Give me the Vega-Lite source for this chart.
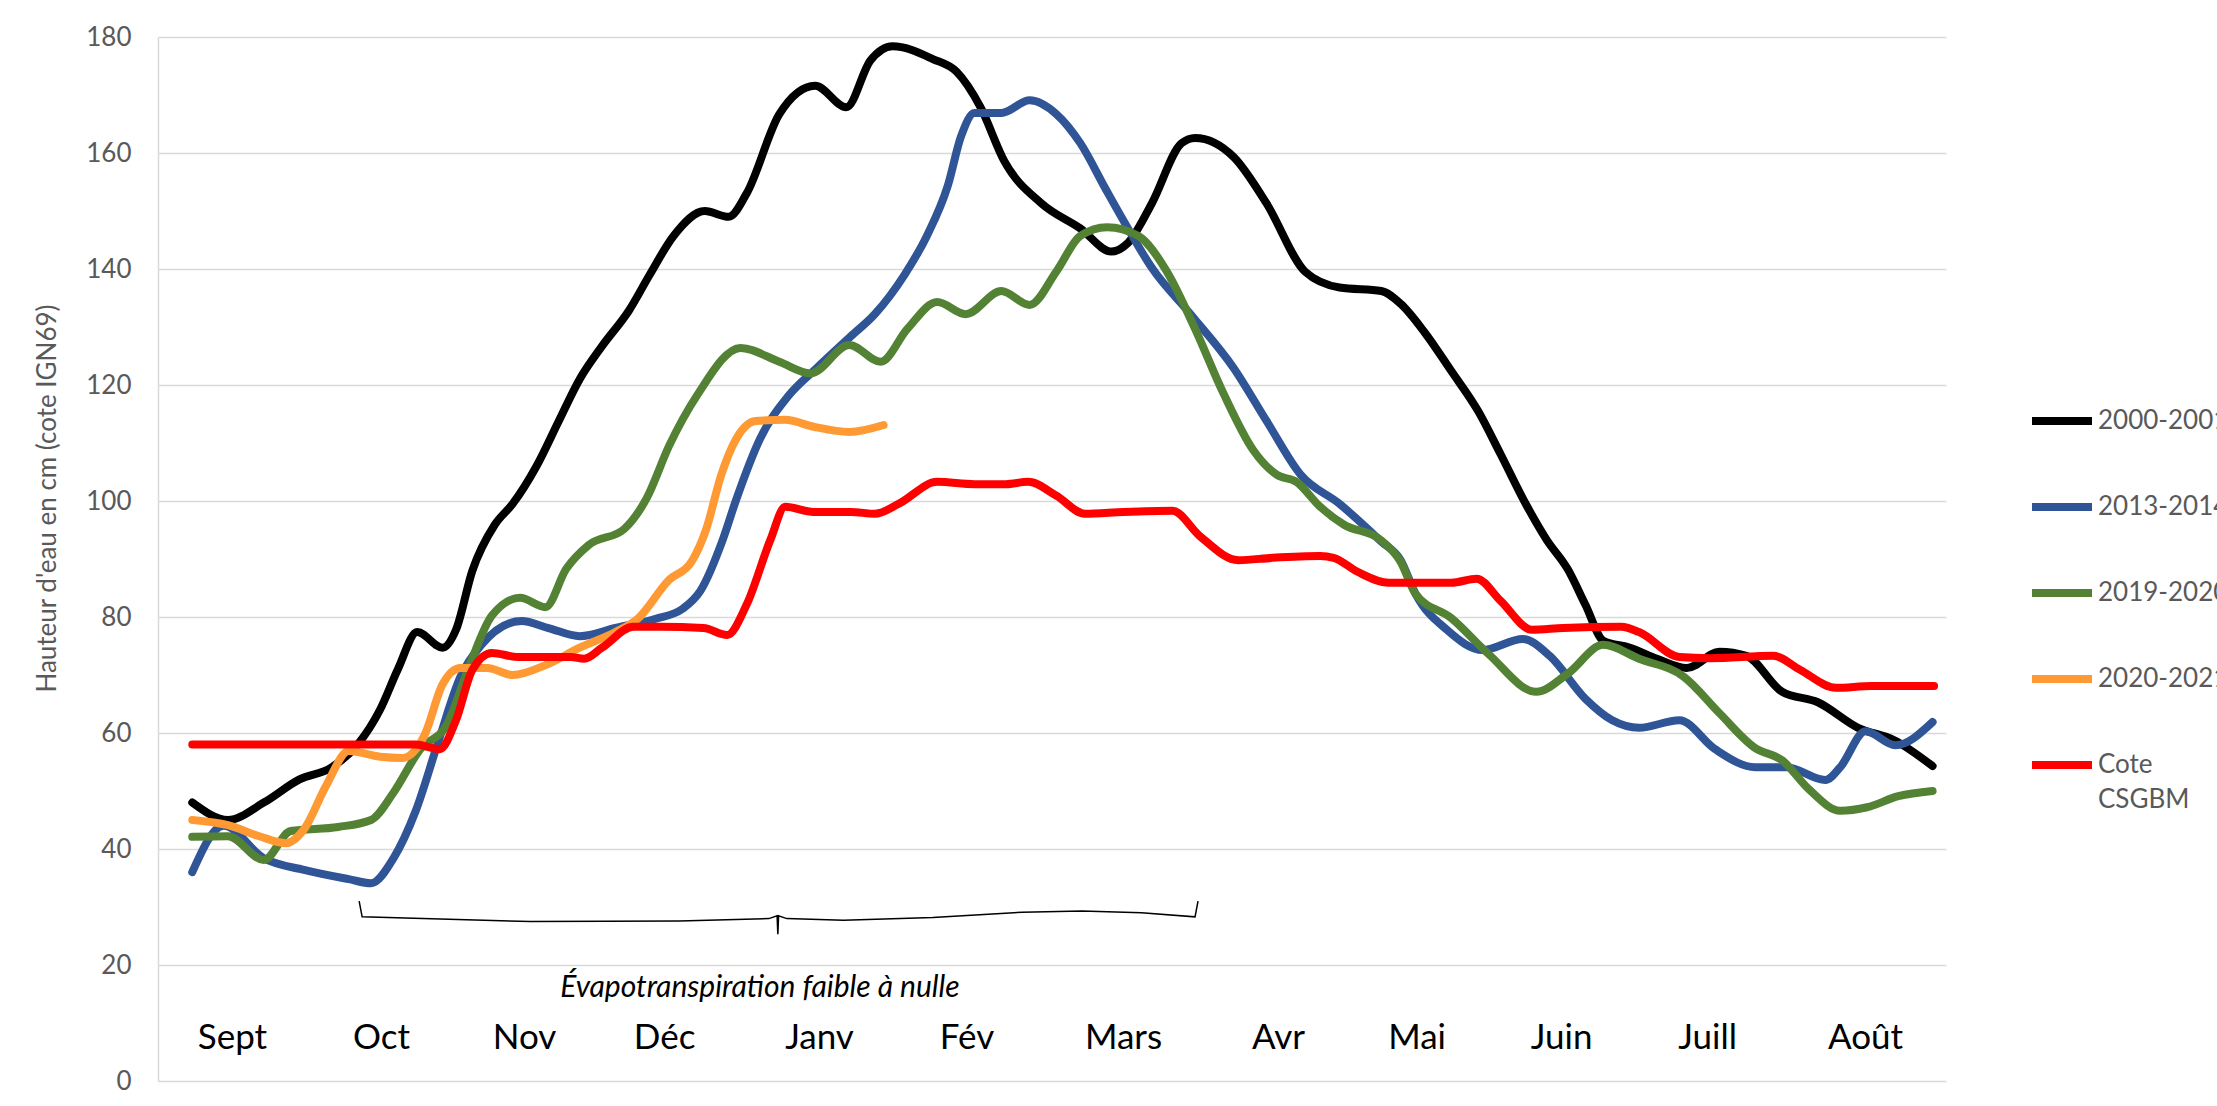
{
  "$schema": "https://vega.github.io/schema/vega-lite/v6.json",
  "width": 1788,
  "height": 1044,
  "autosize": {"type": "none"},
  "padding": {"left": 158, "top": 37, "right": 271, "bottom": 25},
  "background": "white",
  "config": {"view": {"stroke": null}, "font": "Lato", "style": {"guide-label": {"lineHeight": 35}}},
  "datasets": {
    "series": [
      {"s":"2000-2001","t":0.23,"v":48},{"s":"2000-2001","t":0.47,"v":45},{"s":"2000-2001","t":0.71,"v":48},{"s":"2000-2001","t":0.95,"v":52},{"s":"2000-2001","t":1.16,"v":54},{"s":"2000-2001","t":1.34,"v":58},{"s":"2000-2001","t":1.49,"v":64},{"s":"2000-2001","t":1.61,"v":71},{"s":"2000-2001","t":1.74,"v":77.4},{"s":"2000-2001","t":1.91,"v":74.7},{"s":"2000-2001","t":2.0,"v":77.8},{"s":"2000-2001","t":2.11,"v":88},{"s":"2000-2001","t":2.26,"v":95.9},{"s":"2000-2001","t":2.38,"v":99.5},{"s":"2000-2001","t":2.54,"v":106},{"s":"2000-2001","t":2.69,"v":113.8},{"s":"2000-2001","t":2.83,"v":121},{"s":"2000-2001","t":2.98,"v":126.7},{"s":"2000-2001","t":3.16,"v":132.8},{"s":"2000-2001","t":3.3,"v":139},{"s":"2000-2001","t":3.46,"v":145.7},{"s":"2000-2001","t":3.67,"v":150},{"s":"2000-2001","t":3.83,"v":149},{"s":"2000-2001","t":3.95,"v":153},{"s":"2000-2001","t":4.17,"v":166.7},{"s":"2000-2001","t":4.41,"v":171.6},{"s":"2000-2001","t":4.62,"v":167.9},{"s":"2000-2001","t":4.78,"v":175.9},{"s":"2000-2001","t":4.93,"v":178.4},{"s":"2000-2001","t":5.2,"v":176.2},{"s":"2000-2001","t":5.36,"v":174},{"s":"2000-2001","t":5.52,"v":167.9},{"s":"2000-2001","t":5.68,"v":158.6},{"s":"2000-2001","t":5.93,"v":151.3},{"s":"2000-2001","t":6.19,"v":147},{"s":"2000-2001","t":6.4,"v":143},{"s":"2000-2001","t":6.51,"v":144.5},{"s":"2000-2001","t":6.67,"v":151.3},{"s":"2000-2001","t":6.87,"v":161.7},{"s":"2000-2001","t":6.96,"v":162.6},{"s":"2000-2001","t":7.22,"v":159.3},{"s":"2000-2001","t":7.44,"v":151.3},{"s":"2000-2001","t":7.7,"v":139.5},{"s":"2000-2001","t":7.93,"v":136.8},{"s":"2000-2001","t":8.21,"v":136.2},{"s":"2000-2001","t":8.34,"v":134},{"s":"2000-2001","t":8.5,"v":129.1},{"s":"2000-2001","t":8.68,"v":122.4},{"s":"2000-2001","t":8.86,"v":115.5},{"s":"2000-2001","t":9.01,"v":108.1},{"s":"2000-2001","t":9.19,"v":99},{"s":"2000-2001","t":9.32,"v":93.3},{"s":"2000-2001","t":9.46,"v":88.3},{"s":"2000-2001","t":9.58,"v":82.1},{"s":"2000-2001","t":9.7,"v":75.9},{"s":"2000-2001","t":9.88,"v":74.7},{"s":"2000-2001","t":10.06,"v":72.8},{"s":"2000-2001","t":10.26,"v":71.2},{"s":"2000-2001","t":10.48,"v":74},{"s":"2000-2001","t":10.66,"v":73.3},{"s":"2000-2001","t":10.9,"v":67.1},{"s":"2000-2001","t":11.14,"v":65.3},{"s":"2000-2001","t":11.41,"v":60.9},{"s":"2000-2001","t":11.65,"v":58.8},{"s":"2000-2001","t":11.91,"v":54.3},
      {"s":"2013-2014","t":0.23,"v":36},{"s":"2013-2014","t":0.44,"v":44},{"s":"2013-2014","t":0.71,"v":38.4},{"s":"2013-2014","t":0.98,"v":36.4},{"s":"2013-2014","t":1.28,"v":34.8},{"s":"2013-2014","t":1.43,"v":34.1},{"s":"2013-2014","t":1.58,"v":38.4},{"s":"2013-2014","t":1.73,"v":46.6},{"s":"2013-2014","t":1.88,"v":58.4},{"s":"2013-2014","t":2.03,"v":69.7},{"s":"2013-2014","t":2.17,"v":75.2},{"s":"2013-2014","t":2.44,"v":79.3},{"s":"2013-2014","t":2.62,"v":78.1},{"s":"2013-2014","t":2.83,"v":76.7},{"s":"2013-2014","t":3.07,"v":78.1},{"s":"2013-2014","t":3.34,"v":79.7},{"s":"2013-2014","t":3.52,"v":81.4},{"s":"2013-2014","t":3.64,"v":84.5},{"s":"2013-2014","t":3.79,"v":93.3},{"s":"2013-2014","t":3.88,"v":100.2},{"s":"2013-2014","t":4.04,"v":110.7},{"s":"2013-2014","t":4.23,"v":118.1},{"s":"2013-2014","t":4.42,"v":122.9},{"s":"2013-2014","t":4.65,"v":128.4},{"s":"2013-2014","t":4.81,"v":132.2},{"s":"2013-2014","t":5.01,"v":139},{"s":"2013-2014","t":5.16,"v":145.7},{"s":"2013-2014","t":5.3,"v":154.3},{"s":"2013-2014","t":5.39,"v":162.9},{"s":"2013-2014","t":5.48,"v":166.9},{"s":"2013-2014","t":5.66,"v":166.9},{"s":"2013-2014","t":5.85,"v":169.1},{"s":"2013-2014","t":6.03,"v":166.7},{"s":"2013-2014","t":6.19,"v":161.7},{"s":"2013-2014","t":6.36,"v":153.8},{"s":"2013-2014","t":6.51,"v":147},{"s":"2013-2014","t":6.67,"v":140.2},{"s":"2013-2014","t":6.93,"v":132.2},{"s":"2013-2014","t":7.22,"v":122.9},{"s":"2013-2014","t":7.44,"v":113.8},{"s":"2013-2014","t":7.67,"v":104.5},{"s":"2013-2014","t":7.93,"v":99.5},{"s":"2013-2014","t":8.21,"v":93},{"s":"2013-2014","t":8.34,"v":89.8},{"s":"2013-2014","t":8.44,"v":84},{"s":"2013-2014","t":8.65,"v":77.8},{"s":"2013-2014","t":8.89,"v":74.3},{"s":"2013-2014","t":9.16,"v":76.2},{"s":"2013-2014","t":9.34,"v":73.3},{"s":"2013-2014","t":9.58,"v":65.9},{"s":"2013-2014","t":9.76,"v":62.2},{"s":"2013-2014","t":9.94,"v":60.9},{"s":"2013-2014","t":10.21,"v":62.2},{"s":"2013-2014","t":10.45,"v":57.2},{"s":"2013-2014","t":10.72,"v":54.1},{"s":"2013-2014","t":10.93,"v":54.1},{"s":"2013-2014","t":11.19,"v":51.9},{"s":"2013-2014","t":11.29,"v":54.1},{"s":"2013-2014","t":11.46,"v":60.3},{"s":"2013-2014","t":11.66,"v":57.9},{"s":"2013-2014","t":11.91,"v":61.9},
      {"s":"2019-2020","t":0.23,"v":42.1},{"s":"2019-2020","t":0.47,"v":42.2},{"s":"2019-2020","t":0.71,"v":38.1},{"s":"2019-2020","t":0.89,"v":43.1},{"s":"2019-2020","t":1.21,"v":43.8},{"s":"2019-2020","t":1.43,"v":45},{"s":"2019-2020","t":1.58,"v":49.7},{"s":"2019-2020","t":1.76,"v":57.2},{"s":"2019-2020","t":1.94,"v":61.5},{"s":"2019-2020","t":2.09,"v":71.6},{"s":"2019-2020","t":2.24,"v":80.2},{"s":"2019-2020","t":2.43,"v":83.3},{"s":"2019-2020","t":2.6,"v":81.7},{"s":"2019-2020","t":2.74,"v":88.3},{"s":"2019-2020","t":2.89,"v":92.4},{"s":"2019-2020","t":3.13,"v":95.2},{"s":"2019-2020","t":3.28,"v":100.5},{"s":"2019-2020","t":3.43,"v":109.5},{"s":"2019-2020","t":3.62,"v":118.3},{"s":"2019-2020","t":3.91,"v":126.4},{"s":"2019-2020","t":4.17,"v":124},{"s":"2019-2020","t":4.38,"v":122},{"s":"2019-2020","t":4.64,"v":126.9},{"s":"2019-2020","t":4.85,"v":124},{"s":"2019-2020","t":5.03,"v":129.7},{"s":"2019-2020","t":5.23,"v":134.3},{"s":"2019-2020","t":5.42,"v":132.2},{"s":"2019-2020","t":5.66,"v":136.2},{"s":"2019-2020","t":5.85,"v":133.8},{"s":"2019-2020","t":6.03,"v":139.6},{"s":"2019-2020","t":6.19,"v":145.7},{"s":"2019-2020","t":6.37,"v":147.2},{"s":"2019-2020","t":6.58,"v":145.7},{"s":"2019-2020","t":6.77,"v":139.6},{"s":"2019-2020","t":6.96,"v":129.7},{"s":"2019-2020","t":7.15,"v":118.6},{"s":"2019-2020","t":7.35,"v":108.8},{"s":"2019-2020","t":7.51,"v":104.5},{"s":"2019-2020","t":7.64,"v":103.3},{"s":"2019-2020","t":7.8,"v":99},{"s":"2019-2020","t":7.96,"v":95.9},{"s":"2019-2020","t":8.2,"v":93.4},{"s":"2019-2020","t":8.34,"v":89.5},{"s":"2019-2020","t":8.44,"v":84},{"s":"2019-2020","t":8.68,"v":79.8},{"s":"2019-2020","t":8.93,"v":73.6},{"s":"2019-2020","t":9.25,"v":67.1},{"s":"2019-2020","t":9.46,"v":70.2},{"s":"2019-2020","t":9.7,"v":75.2},{"s":"2019-2020","t":9.94,"v":72.8},{"s":"2019-2020","t":10.24,"v":69.7},{"s":"2019-2020","t":10.48,"v":63.4},{"s":"2019-2020","t":10.72,"v":57.4},{"s":"2019-2020","t":10.9,"v":55.3},{"s":"2019-2020","t":11.08,"v":50.3},{"s":"2019-2020","t":11.29,"v":46.6},{"s":"2019-2020","t":11.47,"v":47.2},{"s":"2019-2020","t":11.68,"v":49.1},{"s":"2019-2020","t":11.91,"v":50},
      {"s":"2020-2021","t":0.23,"v":45},{"s":"2020-2021","t":0.47,"v":44.1},{"s":"2020-2021","t":0.68,"v":42.2},{"s":"2020-2021","t":0.86,"v":41},{"s":"2020-2021","t":0.98,"v":43.4},{"s":"2020-2021","t":1.13,"v":51},{"s":"2020-2021","t":1.28,"v":56.9},{"s":"2020-2021","t":1.49,"v":55.9},{"s":"2020-2021","t":1.64,"v":55.7},{"s":"2020-2021","t":1.79,"v":59.7},{"s":"2020-2021","t":1.91,"v":68.4},{"s":"2020-2021","t":2.03,"v":71.2},{"s":"2020-2021","t":2.21,"v":71.2},{"s":"2020-2021","t":2.38,"v":70},{"s":"2020-2021","t":2.6,"v":71.7},{"s":"2020-2021","t":2.83,"v":74.7},{"s":"2020-2021","t":3.07,"v":77.4},{"s":"2020-2021","t":3.22,"v":79.7},{"s":"2020-2021","t":3.43,"v":86.4},{"s":"2020-2021","t":3.58,"v":89.5},{"s":"2020-2021","t":3.68,"v":95.2},{"s":"2020-2021","t":3.78,"v":104.5},{"s":"2020-2021","t":3.88,"v":110.7},{"s":"2020-2021","t":4.01,"v":113.8},{"s":"2020-2021","t":4.21,"v":114},{"s":"2020-2021","t":4.4,"v":112.8},{"s":"2020-2021","t":4.64,"v":111.9},{"s":"2020-2021","t":4.87,"v":113.1},
      {"s":"Cote CSGBM","t":0.23,"v":58},{"s":"Cote CSGBM","t":1.0,"v":58},{"s":"Cote CSGBM","t":1.73,"v":58},{"s":"Cote CSGBM","t":1.89,"v":57.2},{"s":"Cote CSGBM","t":2.0,"v":62.2},{"s":"Cote CSGBM","t":2.11,"v":70.9},{"s":"Cote CSGBM","t":2.24,"v":73.8},{"s":"Cote CSGBM","t":2.42,"v":73.1},{"s":"Cote CSGBM","t":2.77,"v":73.1},{"s":"Cote CSGBM","t":2.86,"v":72.8},{"s":"Cote CSGBM","t":2.98,"v":74.7},{"s":"Cote CSGBM","t":3.19,"v":78.3},{"s":"Cote CSGBM","t":3.37,"v":78.3},{"s":"Cote CSGBM","t":3.66,"v":78.1},{"s":"Cote CSGBM","t":3.82,"v":76.9},{"s":"Cote CSGBM","t":3.95,"v":82.1},{"s":"Cote CSGBM","t":4.11,"v":93.3},{"s":"Cote CSGBM","t":4.21,"v":99},{"s":"Cote CSGBM","t":4.4,"v":98.1},{"s":"Cote CSGBM","t":4.65,"v":98.1},{"s":"Cote CSGBM","t":4.81,"v":97.8},{"s":"Cote CSGBM","t":4.97,"v":99.5},{"s":"Cote CSGBM","t":5.23,"v":103.3},{"s":"Cote CSGBM","t":5.48,"v":102.9},{"s":"Cote CSGBM","t":5.69,"v":102.9},{"s":"Cote CSGBM","t":5.84,"v":103.3},{"s":"Cote CSGBM","t":6.03,"v":100.9},{"s":"Cote CSGBM","t":6.22,"v":97.8},{"s":"Cote CSGBM","t":6.48,"v":98.1},{"s":"Cote CSGBM","t":6.81,"v":98.3},{"s":"Cote CSGBM","t":6.99,"v":94},{"s":"Cote CSGBM","t":7.25,"v":89.8},{"s":"Cote CSGBM","t":7.48,"v":90.2},{"s":"Cote CSGBM","t":7.8,"v":90.5},{"s":"Cote CSGBM","t":7.89,"v":90.2},{"s":"Cote CSGBM","t":8.05,"v":87.8},{"s":"Cote CSGBM","t":8.26,"v":85.9},{"s":"Cote CSGBM","t":8.68,"v":85.9},{"s":"Cote CSGBM","t":8.85,"v":86.6},{"s":"Cote CSGBM","t":9.01,"v":82.8},{"s":"Cote CSGBM","t":9.22,"v":77.8},{"s":"Cote CSGBM","t":9.43,"v":78.1},{"s":"Cote CSGBM","t":9.82,"v":78.3},{"s":"Cote CSGBM","t":9.94,"v":77.4},{"s":"Cote CSGBM","t":10.21,"v":73.1},{"s":"Cote CSGBM","t":10.42,"v":72.9},{"s":"Cote CSGBM","t":10.84,"v":73.3},{"s":"Cote CSGBM","t":11.02,"v":70.9},{"s":"Cote CSGBM","t":11.26,"v":67.8},{"s":"Cote CSGBM","t":11.5,"v":68.1},{"s":"Cote CSGBM","t":11.92,"v":68.1}
    ],
    "months": [
      {"m":"Sept","t":0.5},{"m":"Oct","t":1.5},{"m":"Nov","t":2.46},{"m":"Déc","t":3.4},{"m":"Janv","t":4.44},{"m":"Fév","t":5.43},{"m":"Mars","t":6.48},{"m":"Avr","t":7.52},{"m":"Mai","t":8.45},{"m":"Juin","t":9.42},{"m":"Juill","t":10.4},{"m":"Août","t":11.46}
    ],
    "brace": [
      {"o":1,"t":1.35,"v":31},{"o":2,"t":1.37,"v":28.3},{"o":3,"t":2.5,"v":27.5},{"o":4,"t":3.5,"v":27.6},{"o":5,"t":4.1,"v":28.0},{"o":6,"t":4.155,"v":28.5},{"o":7,"t":4.16,"v":25.3},{"o":8,"t":4.165,"v":28.5},{"o":9,"t":4.22,"v":28.0},{"o":10,"t":4.6,"v":27.7},{"o":11,"t":5.2,"v":28.2},{"o":12,"t":5.8,"v":29.1},{"o":13,"t":6.2,"v":29.3},{"o":14,"t":6.6,"v":29.0},{"o":15,"t":6.96,"v":28.3},{"o":16,"t":6.98,"v":31}
    ],
    "note": [{"label":"Évapotranspiration faible à nulle","t":4.04,"v":14.5}]
  },
  "layer": [
    {
      "data": {"name": "series"},
      "mark": {"type": "line", "interpolate": "monotone", "strokeCap": "round", "strokeJoin": "round"},
      "encoding": {
        "x": {"field": "t", "type": "quantitative", "scale": {"domain": [0, 12], "nice": false, "zero": false}, "axis": null},
        "y": {"field": "v", "type": "quantitative", "scale": {"domain": [0, 180], "nice": false},
          "axis": {"values": [0,20,40,60,80,100,120,140,160,180], "grid": true, "gridColor": "#D9D9D9", "gridWidth": 1.5,
            "domain": true, "domainColor": "#D9D9D9", "domainWidth": 1.5, "ticks": false,
            "labelPadding": 27, "labelFontSize": 26, "labelColor": "#595959", "labelFont": "Lato",
            "title": "Hauteur d'eau en cm (cote IGN69)", "titleFontSize": 26, "titleFontWeight": "normal", "titleColor": "#595959", "titleFont": "Lato",
            "titleAngle": 270, "titleX": -111, "titleY": 461, "titleAlign": "center", "titleBaseline": "middle"}},
        "color": {"field": "s", "type": "nominal",
          "scale": {"domain": ["2000-2001","2013-2014","2019-2020","2020-2021","Cote CSGBM"], "range": ["#000000","#2F5597","#548235","#FF9933","#FF0000"]},
          "legend": {"orient": "none", "legendX": 1870, "legendY": 350, "title": null, "symbolType": "stroke", "symbolSize": 3600, "symbolStrokeWidth": 8,
            "labelFontSize": 26, "labelColor": "#595959", "labelFont": "Lato", "rowPadding": 36, "padding": 0, "labelOffset": 2, "labelLimit": 0,
            "labelExpr": "datum.label == 'Cote CSGBM' ? ['Cote', 'CSGBM'] : datum.label"}},
        "strokeWidth": {"field": "s", "type": "nominal", "scale": {"domain": ["2000-2001","2013-2014","2019-2020","2020-2021","Cote CSGBM"], "range": [8,8,8,8,5]}, "legend": null}
      }
    },
    {
      "data": {"name": "brace"},
      "mark": {"type": "line", "interpolate": "linear", "color": "#000000", "strokeWidth": 1.5},
      "encoding": {
        "x": {"field": "t", "type": "quantitative"},
        "y": {"field": "v", "type": "quantitative"},
        "order": {"field": "o", "type": "quantitative"}
      }
    },
    {
      "data": {"name": "months"},
      "mark": {"type": "text", "fontSize": 35, "font": "Lato", "color": "#000000", "baseline": "alphabetic", "align": "center"},
      "encoding": {
        "x": {"field": "t", "type": "quantitative"},
        "y": {"datum": 5.5, "type": "quantitative"},
        "text": {"field": "m"}
      }
    },
    {
      "data": {"name": "note"},
      "mark": {"type": "text", "fontSize": 30, "font": "Lato", "fontStyle": "italic", "color": "#000000", "baseline": "alphabetic", "align": "center"},
      "encoding": {
        "x": {"field": "t", "type": "quantitative"},
        "y": {"field": "v", "type": "quantitative"},
        "text": {"field": "label"}
      }
    }
  ]
}
